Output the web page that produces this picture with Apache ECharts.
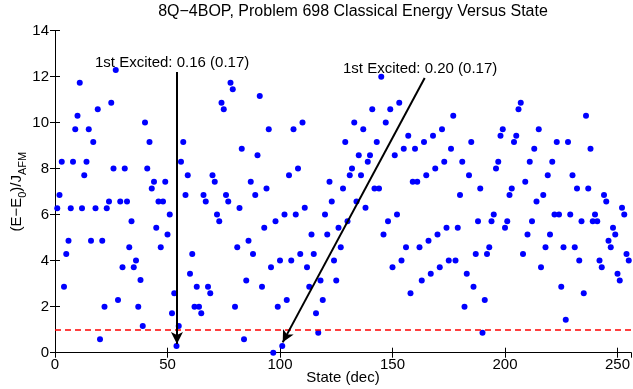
<!DOCTYPE html>
<html><head><meta charset="utf-8">
<script src="https://cdn.jsdelivr.net/npm/echarts@6/dist/echarts.min.js"></script>
<style>html,body{margin:0;padding:0;background:#fff}#c{width:633px;height:389px}</style>
</head><body><div id="c"></div>
<script>
// ---- data ----
const titleText = '8Q\u22124BOP, Problem 698 Classical Energy Versus State';
const xName = 'State (dec)';
const firstState = 1; // energies[i] belongs to state firstState + i
const energies = [
  6.28, 6.86, 8.30, 2.87, 4.29, 4.87, 6.28, 8.30, 9.72, 10.30,      // 1-10
  11.74, 6.28, 7.72, 8.30, 9.72, 4.87, 9.16, 6.28, 10.58, 0.58,     // 11-20
  4.87, 2.00, 6.28, 6.57, 10.87, 8.01, 12.29, 2.29, 6.57, 3.72,     // 21-30
  8.01, 6.57, 4.58, 5.72, 3.72, 4.01, 2.00, 3.16, 1.16, 10.01,      // 31-40
  8.01, 9.16, 7.14, 7.43, 5.43, 6.57, 4.58, 6.57, 7.43, 5.14,       // 41-50
  6.01, 1.71, 2.58, 0.29, 1.16, 8.30, 9.16, 6.86, 7.72, 3.43,       // 51-60
  4.29, 2.00, 2.87, 2.00, 1.71, 6.86, 6.57, 2.87, 2.58, 7.72,       // 61-70
  7.43, 6.01, 5.72, 10.87, 10.58, 6.86, 6.57, 11.74, 11.45, 2.00,   // 71-80
  4.58, 6.29, 8.87, 0.58, 3.14, 4.87, 7.43, 4.29, 6.86, 8.58,       // 81-90
  11.16, 2.87, 5.43, 7.14, 9.72, 3.72, 0.00, 5.72, 2.00, 4.01,      // 91-100
  0.29, 6.01, 2.29, 7.72, 4.01, 9.72, 6.01, 8.01, 4.29, 10.01,      // 101-110
  6.30, 3.72, 2.87, 5.14, 4.29, 1.71, 0.87, 3.14, 2.29, 6.01,       // 111-120
  5.14, 7.43, 6.57, 4.01, 3.14, 5.43, 4.58, 7.14, 9.16, 5.72,       // 121-130
  7.72, 8.01, 10.01, 6.57, 8.58, 7.72, 9.72, 6.30, 8.30, 8.58,      // 131-140
  10.58, 7.14, 9.16, 7.14, 12.00, 5.14, 10.01, 5.72, 10.58, 3.72,   // 141-150
  8.58, 6.01, 10.87, 4.01, 8.87, 4.58, 9.43, 2.58, 7.43, 8.87,      // 151-160
  7.43, 4.58, 3.14, 9.16, 7.72, 4.87, 3.43, 9.43, 8.01, 5.14,       // 161-170
  3.72, 9.72, 8.30, 5.43, 4.01, 8.87, 10.30, 4.01, 5.43, 6.86,      // 171-180
  8.30, 2.00, 3.43, 7.72, 9.16, 2.87, 4.29, 5.72, 7.14, 0.87,       // 181-190
  2.29, 4.29, 4.58, 5.72, 6.01, 8.01, 8.30, 9.43, 9.72, 5.43,       // 191-200
  5.72, 6.86, 7.14, 9.16, 9.43, 10.58, 10.87, 4.29, 7.43, 5.14,     // 201-210
  8.30, 5.72, 8.87, 6.57, 9.72, 3.72, 6.86, 4.58, 7.72, 5.14,       // 211-220
  8.30, 6.01, 9.16, 6.01, 2.87, 4.58, 1.43, 9.16, 6.01, 7.72,       // 221-230
  4.58, 7.14, 4.01, 5.72, 2.58, 10.30, 7.14, 8.87, 5.72, 6.01,      // 231-240
  5.72, 4.01, 3.72, 6.86, 6.57, 4.87, 4.58, 5.43, 5.14, 3.43,       // 241-250
  3.14, 6.30, 6.01, 4.29, 4.01                                      // 251-255
];
const xMin = 0, xMax = 256, xStep = 50;
const yMin = 0, yMax = 14, yStep = 2;
const thresholdY = 1;
const notes = [
  {text: '1st Excited: 0.16 (0.17)', from: [54.2, 12.2], to: [54.2, 0.38]},
  {text: '1st Excited: 0.20 (0.17)', from: [164.3, 11.94], to: [101.2, 0.45]}
];

// ---- chart ----
const FONT = '"Liberation Sans", Arial, Helvetica, sans-serif';
const points = energies.map((e, i) => [firstState + i, e]);
const G = {left: 55, right: 2, top: 30.7, bottom: 36.3, containLabel: false, outerBoundsMode: 'none'};

const chart = echarts.init(document.getElementById('c'), null, {renderer: 'canvas'});
const axisCommon = {
  axisLine: {show: true, lineStyle: {color: '#000', width: 1}},
  axisTick: {show: true, inside: true, length: 5, lineStyle: {color: '#000', width: 1}},
  splitLine: {show: false}
};
const option = {
  animation: false,
  backgroundColor: '#fff',
  grid: G,
  xAxis: [
    Object.assign({type: 'value', min: xMin, max: xMax, interval: xStep, position: 'bottom',
      axisLabel: {color: '#000', fontSize: 15, fontFamily: FONT, margin: 5, showMaxLabel: false},
      name: xName, nameLocation: 'middle', nameGap: 18, nameMoveOverlap: false,
      nameTextStyle: {color: '#000', fontSize: 15, fontFamily: FONT}}, axisCommon),
    Object.assign({type: 'value', min: xMin, max: xMax, interval: xStep, position: 'top',
      axisLabel: {show: false}}, axisCommon)
  ],
  yAxis: [
    Object.assign({type: 'value', min: yMin, max: yMax, interval: yStep, position: 'left',
      axisLabel: {color: '#000', fontSize: 15, fontFamily: FONT, margin: 6},
      name: '{n|(E\u2212E}{s|0}{n|)/J}{s|AFM}', nameLocation: 'middle', nameGap: 27, nameMoveOverlap: false,
      nameTextStyle: {color: '#000', fontFamily: FONT,
        rich: {n: {fontSize: 15, fontFamily: FONT, color: '#000', lineHeight: 22, verticalAlign: 'middle'},
               s: {fontSize: 11, fontFamily: FONT, color: '#000', lineHeight: 22, verticalAlign: 'bottom'}}}},
      axisCommon),
    Object.assign({type: 'value', min: yMin, max: yMax, interval: yStep, position: 'right',
      axisLabel: {show: false}}, axisCommon)
  ],
  series: [
    {
      type: 'line', data: [], z: 1, silent: true,
      markLine: {silent: true, symbol: ['none', 'none'], animation: false,
        label: {show: false},
        lineStyle: {color: '#ff0000', type: [6, 4], width: 1.5},
        data: [{yAxis: thresholdY}]}
    },
    {
      type: 'scatter', data: points, z: 2, symbol: 'circle', symbolSize: 6,
      itemStyle: {color: '#0000ff', opacity: 1}, silent: true
    },
    {
      type: 'line', data: [], z: 3, silent: true,
      markLine: {silent: true, symbol: ['none', 'arrow'], symbolSize: [9, 12], animation: false,
        label: {show: false},
        lineStyle: {color: '#000', type: 'solid', width: 2},
        data: notes.map(n => [{coord: n.from}, {coord: n.to}])}
    }
  ],
  graphic: [
    {type: 'text', x: 353, y: 12, z: 10,
      style: {text: titleText, fill: '#000', fontSize: 16, fontFamily: FONT, align: 'center', verticalAlign: 'middle'}},
    {type: 'text', x: 95, y: 63, z: 10,
      style: {text: notes[0].text, fill: '#000', fontSize: 15, fontFamily: FONT, align: 'left', verticalAlign: 'middle'}},
    {type: 'text', x: 343, y: 69, z: 10,
      style: {text: notes[1].text, fill: '#000', fontSize: 15, fontFamily: FONT, align: 'left', verticalAlign: 'middle'}}
  ]
};
chart.setOption(option);
</script>
</body></html>
